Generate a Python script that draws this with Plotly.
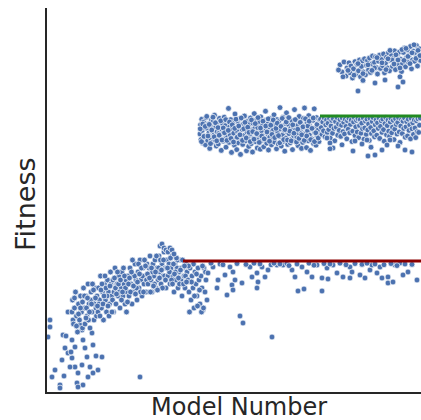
import plotly.graph_objects as go

# ---- data: (model number, fitness) ----
early_sparse = [(12,20),(12,18.25),(4,15.75),(32,7.5),(20,5.75),(52,3.75),(52,3),(64,16.25),(84,22),(104,20),
    (100,15),(112,13.25),(84,11.75),(100,10.5),(112,8.25),(92,8.25),(124,6.75),(120,4.25),(144,3.75),(140,8.75),
    (172,8.25),(184,6.75),(204,7.5),(164,5.75),(160,10.75),(184,13.75),(180,16.75),(144,15),(140,17.5),(132,18.75),
    (220,10.75),(124,3.25),(372,5.75),(72,13),(60,10),(76,16),(96,12),(152,13),(196,11),(68,6)]

early_band = [(100,22),(102,25),(106,19),(110,23),(114,27),(118,21),(122,17),(126,24),(130,20),(134,26),(138,22),
    (142,18),(146,28),(150,23),(152,19),(156,26),(160,21),(164,29),(168,24),(172,18),(176,27),(180,22),(184,25),
    (188,20),(192,28),(196,23),(200,26),(158,23),(166,20),(174,25),(182,29),(190,24),(198,21),
    (204,22),(206,28),(210,25),(214,31),(218,23),(222,27),(226,20),(230,29),(234,25),(238,22),(242,30),(246,27),
    (250,24),(254,32),(258,26),(208,24),(216,27.5),(224,24),(232,31),(240,26),(248,21),(256,29),
    (262,25),(264,30),(268,27),(272,33),(276,24),(280,29),(284,26),(288,31),(292,23),(296,28),(300,32),(304,26),
    (308,29),(312,24),(316,30),(320,27),(266,22),(274,28),(282,32),(290,27),(298,25),(306,33),(314,28),(318,22),
    (324,31),(328,26),(332,33),(336,29),(340,24),(344,31),(348,27),(352,34),(356,30),(360,25),(364,32),(368,28),
    (372,35),(376,30),(380,26),(384,33),(388,29),(392,31),(396,27),(400,34),(326,29),(334,27),(342,35),(350,31),
    (358,28),(366,34),(374,27),(382,31),(390,35),(398,30),
    (404,29),(408,33),(412,36),(416,30),(420,27),(424,34),(428,31),(432,35),(436,28),(440,33),(444,30),(448,36),
    (452,32),(456,29),(460,34),(464,31),(468,37),(472,33),(476,28),(480,35),(406,31),(414,27),(422,32),(430,29),
    (438,36),(446,33),(454,35),(462,28),(470,31),(478,33),(452,38.5),(460,39),(468,38),(476,37.5),(484,37),
    (484,31),(488,34),(492,29),(496,33),(500,36),(504,31),(508,27),(512,34),(516,30),(520,33),(524,28),(528,32),
    (532,35),(536,30),(540,26),(544,33),(548,31),(552,28),(556,34),(560,32),(490,32),(498,30),(506,34),(514,32),
    (522,35),(530,29),(538,33),(546,29),(554,31),
    (564,30),(568,27),(572,33),(576,25),(580,31),(584,28),(588,23),(592,32),(596,29),(600,26),(604,33),(608,30),
    (612,24),(616,31),(620,28),(624,22.5),(628,33),(632,27),(636,30),(640,25),(570,22),(586,34),(598,31.5),
    (610,27.5),(622,33.5),(634,32),(566,33.5),(578,29.5),(590,26),(602,23.5),(618,22),(626,23),
    (110,25.5),(118,18.5),(126,21.5),(134,23),(142,24.5),(150,26),(156,20.5),(162,25.5),(170,22),(178,24),
    (186,27.5),(194,25.5),(202,23.5),(212,21),(220,29),(228,26),(236,28),(244,23.5),(252,28.5),(260,22),
    (270,30.5),(278,26.5),(286,29),(294,30),(302,27),(310,31),(322,24.5),(330,30.5),(338,32),(346,28.5),
    (354,26.5),(362,29.5),(370,31.5),(378,33),(386,27),(394,33.5),(402,31.5),(410,30.5),(418,33),(426,28.5),
    (434,32),(442,27.5),(450,30.5),(458,32.5),(466,35),(474,30),(482,33),(494,35.5),(502,29),(510,31.5),
    (518,35.5),(526,30.5),(534,32.5),(542,35),(550,33.5),(558,29.5),(492,38),(500,37.5),(508,36.5)]

plateau_low = [(644,31.75),(664,33.25),(684,30),(680,28),(720,26.25),(712,31.25),(732,33.25),(744,32),(752,30),
    (740,28.75),(744,27.5),(780,29.25),(772,21),(784,19.25),(812,33.25),(820,30.75),(840,31.75),(844,29.5),
    (840,28),(860,33.25),(872,30.75),(884,32.5),(900,15.75),(920,33.75),(944,33.75),(980,32.5),(992,30.75),
    (1004,27.25),(1028,27.75),(1020,33.25),(1040,32),(1060,30.75),(1080,33.75),(1100,30.5),(1100,27.25),
    (1120,33),(1124,30.25),(1144,33.75),(1160,31.75),(1184,30.75),(1212,33.25),(1220,32),(1212,30.5),
    (1252,31.25),(1272,30.5),(1292,32.5),(1300,33.75),(1320,31.75),(1332,33.25),(1340,30.5),(1364,30.75),
    (1364,29.25),(1384,29.5),(1392,33.75),(1412,34.25),(1424,31.25),(1444,32),(1480,30),
    (656,34.2),(692,34),(704,33.8),(760,34.1),(796,33.9),(828,34.2),(852,34),(896,33.8),(908,34.2),(932,34),
    (960,34.1),(968,33.6),(1000,34),(1048,34.2),(1068,33.7),(1108,34.1),(1132,34),(1172,34.2),(1196,33.8),
    (1232,34.1),(1260,33.9),(1280,34.2),(1312,34),(1348,33.8),(1376,34.1),(1400,33.6),(1432,34),(1460,33.9)]

plateau_mid = [(612,66.5),(614,68.8),(616,65.1),(619,70.2),(621,67.4),(624,64.2),(626,69.5),(629,66.0),(631,68.1),
    (634,63.8),(636,70.6),(638,65.7),(641,67.9),(643,64.9),(646,69.0),(648,66.8),(651,62.9),(653,68.5),(655,65.4),
    (658,70.0),(660,67.2),(663,64.5),(665,69.8),(668,66.3),(670,71.2),(672,65.0),(675,68.2),(677,63.5),(680,67.0),
    (682,69.4),(685,64.0),(687,66.6),(690,70.4),(692,65.6),(694,68.0),(697,62.4),(699,67.7),
    (702,69.1),(704,64.7),(707,66.9),(709,70.7),(711,65.3),(714,68.6),(716,63.2),(719,67.3),(721,69.9),(723,65.9),
    (726,72.9),(728,64.4),(731,68.3),(733,66.2),(735,70.1),(738,61.9),(740,67.8),(742,65.0),(745,69.3),(747,66.7),
    (750,63.7),(752,71.5),(754,68.0),(757,65.5),(759,62.6),(762,67.1),(764,69.6),(766,64.3),(769,66.4),(771,70.3),
    (774,61.4),(776,68.7),(778,65.2),(781,67.6),(783,63.9),(786,69.0),(788,66.1),(790,71.0),(793,64.8),(795,68.4),
    (798,62.3),(800,67.0),
    (802,69.7),(805,65.8),(807,63.4),(810,68.9),(812,66.5),(814,70.5),(817,64.1),(819,67.5),(822,62.0),(824,69.2),
    (826,65.4),(829,71.6),(831,67.9),(834,64.6),(836,66.9),(838,70.0),(841,63.0),(843,68.1),(846,65.6),(848,69.5),
    (850,66.2),(853,62.7),(855,70.8),(858,67.3),(860,64.9),(862,68.7),(865,66.0),(867,63.3),(870,69.9),(872,65.1),
    (874,72.2),(877,67.7),(879,64.2),(882,69.0),(884,66.4),(886,62.5),(889,68.3),(891,65.7),(894,70.4),(896,67.0),
    (898,63.8),
    (901,69.4),(903,65.3),(906,67.6),(908,71.3),(910,64.5),(913,68.8),(915,66.1),(918,62.8),(920,70.1),(922,67.2),
    (925,64.0),(927,69.6),(930,65.9),(932,73.1),(934,67.8),(937,63.5),(939,68.5),(942,66.3),(944,70.7),(946,64.7),
    (949,67.4),(951,62.2),(954,69.1),(956,65.5),(958,71.8),(961,67.0),(963,63.9),(966,68.9),(968,66.6),(970,70.2),
    (973,64.3),(975,67.9),(978,65.2),(980,69.8),(982,62.6),(985,68.2),(987,66.0),(990,72.6),(992,64.9),(994,67.5),
    (997,70.0),(999,65.8),
    (1002,68.6),(1004,63.6),(1006,66.8),(1009,70.9),(1011,65.0),(1014,69.3),(1016,67.1),(1018,62.9),(1021,68.0),
    (1023,64.4),(1026,70.4),(1028,66.5),(1030,73.0),(1033,68.7),(1035,65.6),(1038,63.1),(1040,69.5),(1042,67.3),
    (1045,64.8),(1047,71.1),(1050,66.2),(1052,68.4),(1054,62.4),(1057,70.2),(1059,65.3),(1062,67.8),(1064,69.9),
    (1066,64.1),(1069,72.8),(1071,66.9),(1074,68.1),(1076,63.7),(1078,70.6),(1081,65.9),(1083,67.4),(1086,69.2),
    (1088,64.6),(1090,66.3),
    (613,67.8),(618,64.6),(623,69.0),(628,65.9),(633,68.4),(639,70.9),(644,66.0),(649,68.9),(654,64.1),(659,67.5),
    (664,70.7),(669,65.8),(674,69.3),(679,64.8),(684,68.1),(689,66.2),(695,69.8),(700,65.0),(705,68.0),(710,66.8),
    (715,70.1),(720,64.9),(725,67.4),(730,69.5),(736,65.4),(741,68.8),(746,64.5),(751,67.9),(756,70.2),(761,65.7),
    (767,68.5),(772,66.3),(777,70.5),(782,64.9),(787,67.8),(792,69.4),(797,65.5),(803,68.2),(808,66.9),(813,64.6),
    (818,70.0),(823,67.1),(828,65.2),(833,69.1),(839,66.6),(844,70.6),(849,64.4),(854,68.0),(859,66.0),(864,69.7),
    (869,65.3),(875,68.5),(880,67.0),(885,70.3),(890,64.7),(895,68.7),(900,66.4),(905,70.0),(911,65.6),(916,67.9),
    (921,69.2),(926,66.1),(931,64.3),(936,68.4),(941,70.4),(947,65.1),(952,67.6),(957,69.5),(962,65.0),(967,70.6),
    (972,67.2),(977,64.8),(983,68.8),(988,66.7),(993,70.1),(998,64.5),(1003,67.7),(1008,65.4),(1013,69.4),
    (1019,66.3),(1024,68.3),(1029,64.9),(1034,70.3),(1039,66.0),(1044,68.5),(1049,69.7),(1055,65.1),(1060,67.9),
    (1065,70.5),(1070,64.6),(1075,66.8),(1080,68.9),(1085,65.5),(1091,70.0),
    (1094,70.2),(1097,68.1),(1100,66.4),(1103,69.5),(1106,67.3),(1109,70.5),(1112,65.8),(1115,68.8),(1118,70.0),
    (1121,66.9),(1124,69.2),(1127,67.6),(1130,70.4),(1133,65.5),(1136,68.5),(1139,69.9),(1142,66.7),(1145,70.3),
    (1148,67.9),(1151,64.8),(1154,69.6),(1157,68.2),(1160,70.6),(1163,66.2),(1166,69.0),(1169,67.4),(1172,70.1),
    (1175,65.9),(1178,68.7),(1181,70.5),(1184,67.1),(1187,69.4),(1190,66.5),(1193,70.2),(1196,68.4),(1199,65.3),
    (1202,69.8),(1205,67.7),(1208,70.4),(1211,66.8),(1214,68.9),(1217,70.0),(1220,64.6),(1223,67.2),(1226,69.5),
    (1229,70.6),(1232,66.1),(1235,68.3),(1238,69.9),(1241,67.0),(1244,70.3),(1247,65.6),(1250,68.6),(1253,70.1),
    (1256,66.7),(1259,69.2),(1262,67.8),(1265,70.5),(1268,65.2),(1271,68.0),(1274,69.7),(1277,66.4),(1280,70.2),
    (1283,67.5),(1286,69.0),(1289,64.9),(1292,70.4),(1295,68.1),(1298,66.6),(1301,69.6),(1304,70.6),(1307,67.3),
    (1310,65.8),(1313,68.8),(1316,70.0),(1319,66.2),(1322,69.3),(1325,67.9),(1328,70.5),(1331,65.4),(1334,68.4),
    (1337,69.8),(1340,66.9),(1343,70.2),(1346,67.6),(1349,64.7),(1352,69.1),(1355,70.6),(1358,66.3),(1361,68.6),
    (1364,70.0),(1367,67.2),(1370,65.9),(1373,69.5),(1376,70.4),(1379,66.8),(1382,68.2),(1385,69.9),(1388,65.1),
    (1391,67.7),(1394,70.3),(1397,68.9),(1400,66.5),(1403,69.4),(1406,70.6),(1409,67.0),(1412,64.4),(1415,68.5),
    (1418,70.1),(1421,66.6),(1424,69.7),(1427,67.9),(1430,70.5),(1433,65.7),(1436,68.3),(1439,69.6),(1442,66.0),
    (1445,70.2),(1448,67.4),(1451,68.8),(1454,65.3),(1457,70.4),(1460,67.8),(1463,69.3),(1466,66.4),(1469,70.0),
    (1472,68.0),(1475,65.6),(1478,69.8),(1481,67.1),(1484,70.3),(1487,66.9),(1490,68.7),(1493,70.5),
    (1132,64.25),(1120,65.5),(1224,62.25),(1232,64.75),(1284,61),(1280,65),(1312,61.25),(1340,62.5),(1360,63.75),
    (1372,65),(1432,62.5),(1460,62),(1144,63),(1180,63.8),(1404,63.5),(1260,64.0),(1132,62.8),(1296,63.2)]

plateau_high = [(1172,83.8),(1180,82.0),(1188,84.5),(1196,81.0),(1200,83.0),(1208,84.3),(1212,81.8),(1216,83.5),
    (1222,80.5),(1226,82.8),(1232,84.6),(1236,81.5),(1240,83.9),(1246,82.3),(1250,85.0),(1254,80.8),(1258,83.4),
    (1262,84.8),(1266,82.0),(1270,85.3),(1274,81.3),(1278,83.7),(1282,84.9),(1286,82.5),(1290,85.5),(1294,81.9),
    (1298,84.0),(1302,86.0),(1306,82.7),(1310,84.4),(1314,85.8),(1318,83.1),(1322,81.5),(1326,84.7),(1330,86.2),
    (1334,82.9),(1338,85.1),(1342,83.6),(1346,86.5),(1350,81.8),(1354,84.2),(1358,85.7),(1362,83.0),(1366,86.8),
    (1370,82.3),(1374,84.9),(1378,86.1),(1382,83.4),(1386,85.4),(1390,87.3),(1394,82.6),(1398,84.6),(1402,86.4),
    (1406,83.8),(1410,87.0),(1414,85.2),(1418,82.1),(1422,84.1),(1426,86.9),(1430,88.0),(1434,83.3),(1438,85.6),
    (1442,87.5),(1446,84.4),(1450,86.3),(1454,88.4),(1458,82.8),(1462,85.0),(1466,87.2),(1470,84.7),(1474,86.7),
    (1478,88.6),(1482,83.5),(1486,85.9),(1490,87.8),(1494,84.9),
    (1380,85.0),(1396,86.3),(1404,85.0),(1412,83.0),(1420,87.6),(1428,84.9),(1436,87.9),(1444,85.9),(1452,84.1),
    (1460,86.8),(1468,88.8),(1476,85.4),(1484,87.4),(1492,86.1),(1340,84.3),(1356,82.6),(1364,85.3),(1372,87.4),
    (1388,84.0),(1310,83.0),(1320,85.6),(1300,82.4),(1284,83.8),(1264,81.6),(1244,84.1),(1228,81.2),(1204,82.4),
    (1184,80.8),(1166,82.5),
    (1244,77.25),(1312,79.25),(1404,78.25),(1424,79.5),(1412,80.8),(1264,79.9),(1352,80.0)]

# best-so-far reference levels
red_level_x = [544, 1496]
red_level_y = [34.75, 34.75]
green_level_x = [1092, 1496]
green_level_y = [71.0, 71.0]

all_pts = early_sparse + early_band + plateau_low + plateau_mid + plateau_high
xs = [p[0] for p in all_pts]
ys = [p[1] for p in all_pts]

fig = go.Figure()
fig.add_trace(go.Scatter(
    x=xs, y=ys, mode="markers",
    marker=dict(size=5.8, color="#4C72B0", line=dict(color="white", width=0.7)),
    showlegend=False, hoverinfo="skip"))
fig.add_trace(go.Scatter(x=red_level_x, y=red_level_y, mode="lines",
    line=dict(color="#8B0000", width=3), showlegend=False, hoverinfo="skip"))
fig.add_trace(go.Scatter(x=green_level_x, y=green_level_y, mode="lines",
    line=dict(color="#228B22", width=3), showlegend=False, hoverinfo="skip"))

axis_common = dict(showline=True, linecolor="#262626", linewidth=2, showticklabels=False,
                   ticks="", showgrid=False, zeroline=False, mirror=False)
fig.update_layout(
    width=421, height=420,
    margin=dict(l=47, r=0, t=8, b=28),
    paper_bgcolor="white", plot_bgcolor="white",
    xaxis=dict(range=[0, 1496], **axis_common),
    yaxis=dict(range=[2, 98], **axis_common),
    font=dict(family="DejaVu Sans", color="#262626"),
    annotations=[
        dict(text="Fitness", xref="paper", yref="paper", x=0, y=0.5, xanchor="center", yanchor="middle",
             textangle=-90, xshift=-22, yshift=-4, showarrow=False, font=dict(size=27, color="#262626")),
        dict(text="Model Number", xref="paper", yref="paper", x=0.5, y=0, xanchor="center", yanchor="middle",
             xshift=5, yshift=-15, showarrow=False, font=dict(size=24, color="#262626")),
    ],
)
fig.write_html("out.html", config={"displayModeBar": False},
               post_script="document.body.style.margin='0';document.body.style.overflow='hidden';")
